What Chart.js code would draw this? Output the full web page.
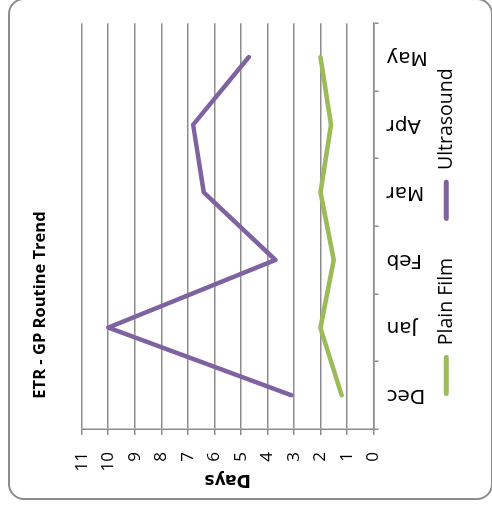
<!DOCTYPE html>
<html>
<head>
<meta charset="utf-8">
<script src="https://cdn.jsdelivr.net/npm/chart.js@4/dist/chart.umd.min.js"></script>
<style>
  html, body { margin: 0; padding: 0; background: #fff; width: 492px; height: 510px; overflow: hidden; }
  /* The chart is laid out upright (510 x 492) and the whole frame is turned a quarter turn counter-clockwise. */
  #frame { position: absolute; left: 0; top: 0; width: 510px; height: 492px;
           transform-origin: 0 0; transform: translate(0, 510px) rotate(-90deg); }
  #box { position: absolute; left: 10px; top: 8px; width: 502px; height: 485px;
         border: 2px solid #8c8c8c; border-radius: 16px; box-sizing: border-box; }
  #chart { position: absolute; left: 0; top: 0; width: 510px; height: 492px; }
</style>
</head>
<body>
<div id="frame">
  <div id="box"></div>
  <canvas id="chart" width="510" height="492"></canvas>
</div>
<script>
const chartTitle = 'ETR - GP Routine Trend';
const months = ['Dec', 'Jan', 'Feb', 'Mar', 'Apr', 'May'];
const plainFilmDays = [1.2, 2.0, 1.5, 2.0, 1.6, 2.0];
const ultrasoundDays = [3.1, 10, 3.7, 6.4, 6.8, 4.7];
const dayTicks = [0, 1, 2, 3, 4, 5, 6, 7, 8, 9, 10, 11];

const GRID = '#8c8c8c';
const GREEN = '#9bbb59';
const PURPLE = '#7f63a1';

// Category axis whose month labels may run past the axis box into the legend band.
class OpenCategoryScale extends Chart.CategoryScale {
  _computeLabelArea() { return undefined; }
}
OpenCategoryScale.id = 'openCategory';
OpenCategoryScale.defaults = Chart.CategoryScale.defaults;
Chart.register(OpenCategoryScale);

// Chart title, placed left of centre above the plot; legend nudged slightly left.
const sideTitle = {
  id: 'sideTitle',
  afterLayout(chart) {
    chart.legend.left -= 6;
    chart.legend.right -= 6;
  },
  afterDraw(chart) {
    const ctx = chart.ctx;
    ctx.save();
    ctx.font = 'bold 16.5px "Open Sans"';
    ctx.fillStyle = '#000';
    ctx.textAlign = 'center';
    ctx.textBaseline = 'middle';
    ctx.fillText(chartTitle, 205, 40);
    ctx.restore();
  }
};

new Chart(document.getElementById('chart'), {
  type: 'line',
  data: {
    labels: months,
    datasets: [
      { label: 'Plain Film', data: plainFilmDays, borderColor: GREEN, backgroundColor: GREEN },
      { label: 'Ultrasound', data: ultrasoundDays, borderColor: PURPLE, backgroundColor: PURPLE }
    ]
  },
  options: {
    responsive: false,
    animation: false,
    devicePixelRatio: 1,
    layout: { padding: { top: 81.7, right: 23.3, bottom: 26, left: 16 } },
    elements: {
      point: { radius: 0, hoverRadius: 0 },
      line: { tension: 0, borderWidth: 4.5, borderCapStyle: 'round', borderJoinStyle: 'round', fill: false }
    },
    plugins: {
      title: { display: false },
      tooltip: { enabled: false },
      legend: {
        position: 'bottom',
        fullSize: false,
        labels: {
          color: '#000',
          font: { family: 'Open Sans', size: 19.5 },
          boxWidth: 41,
          boxHeight: 5,
          padding: 37,
          useBorderRadius: true,
          borderRadius: 2.5,
          generateLabels(chart) {
            return Chart.defaults.plugins.legend.labels.generateLabels(chart).map(item => ({
              ...item, lineWidth: 0, fillStyle: item.strokeStyle, borderRadius: 2.5
            }));
          }
        }
      }
    },
    scales: {
      x: {
        type: 'openCategory',
        offset: true,
        grid: { offset: true, drawOnChartArea: false, drawTicks: true, tickLength: 5, color: GRID, lineWidth: 1.5 },
        border: { color: GRID, width: 1.5 },
        ticks: {
          autoSkip: false, minRotation: 90, maxRotation: 90, padding: 8,
          color: '#000', font: { family: 'DejaVu Sans', size: 20 }
        },
        afterFit(scale) { scale.height = 26; }
      },
      y: {
        min: 0,
        max: 11,
        afterBuildTicks(scale) { scale.ticks = dayTicks.map(v => ({ value: v })); },
        grid: { color: GRID, lineWidth: 1.5, tickLength: 6 },
        border: { color: GRID, width: 1.5 },
        ticks: { autoSkip: false, padding: 17, color: '#000', font: { family: 'Open Sans', size: 17 } },
        title: {
          display: true, text: 'Days', color: '#000',
          font: { family: 'DejaVu Sans', size: 17, weight: 'bold' }
        },
        afterFit(scale) { scale.width = 65; }
      }
    }
  },
  plugins: [sideTitle]
});
</script>
</body>
</html>
